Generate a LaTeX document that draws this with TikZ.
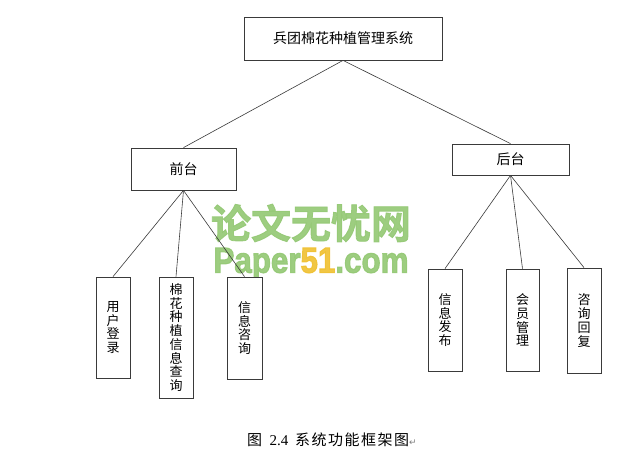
\documentclass[tikz,border=0pt]{standalone}
\usepackage{fontspec}
\setmainfont{Liberation Serif}
\newfontfamily\cjk{Noto Sans CJK SC}
\newfontfamily\cjkcap[LetterSpace=10]{Noto Sans CJK SC}
\newfontfamily\cjkb[FakeBold=2]{Noto Sans CJK SC Bold}
\newfontfamily\wmfont[FakeBold=3]{Liberation Sans Bold}
\newfontfamily\symfont{DejaVu Sans}
\definecolor{ln}{HTML}{3A3A3A}
\definecolor{wmgreen}{HTML}{93C873}
\definecolor{wmyellow}{HTML}{F0C030}
\tikzset{
  box/.style={draw=ln, line width=0.8pt, fill=white, inner sep=0pt, font=\cjk\fontsize{14}{15}\selectfont},
  leaf/.style={box, align=center, font=\cjk\fontsize{13}{13.75}\selectfont},
  conn/.style={draw=ln, line width=0.6pt},
}
\begin{document}
\begin{tikzpicture}[x=1pt,y=-1pt]
\useasboundingbox[fill=white] (0,0) rectangle (625,474);
% watermark
\node[text=wmgreen, font=\cjkb\fontsize{40}{40}\selectfont, inner sep=0pt, opacity=0.9] (wm1) at (311,223) {论文无忧网};
\node[font=\wmfont\fontsize{36}{36}\selectfont, inner sep=0pt, xscale=0.87, opacity=0.9] (wm2) at (311,264) {\textcolor{wmgreen}{Paper}\textcolor{wmyellow}{51}\textcolor{wmgreen}{.com}};
% nodes
\node[box, minimum width=198, minimum height=43] (root) at (343,38.5) {兵团棉花种植管理系统};
\node[box, minimum width=105, minimum height=42] (front) at (183.5,169) {前台};
\node[box, minimum width=117, minimum height=31] (back) at (510.5,159.5) {后台};
\node[leaf, minimum width=34, minimum height=101] (l1) at (113,327.5) {用\\户\\登\\录};
\node[leaf, minimum width=34, minimum height=121] (l2) at (176,337.5) {棉\\花\\种\\植\\信\\息\\查\\询};
\node[leaf, minimum width=35, minimum height=102] (l3) at (244.5,328) {信\\息\\咨\\询};
\node[leaf, minimum width=34, minimum height=102] (r1) at (445,320) {信\\息\\发\\布};
\node[leaf, minimum width=33, minimum height=102] (r2) at (522.5,320) {会\\员\\管\\理};
\node[leaf, minimum width=34, minimum height=105] (r3) at (584,320.5) {咨\\询\\回\\复};
% connectors
\draw[conn] (root.south) -- (front.north);
\draw[conn] (root.south) -- (back.north);
\draw[conn] (front.south) -- (l1.north);
\draw[conn] (front.south) -- (l2.north);
\draw[conn] (front.south) -- (l3.north);
\draw[conn] (back.south) -- (r1.north);
\draw[conn] (back.south) -- (r2.north);
\draw[conn] (back.south) -- (r3.north);
% caption
\node[anchor=west, inner sep=0pt, font=\fontsize{15}{16}\selectfont] (cap) at (247,440) {{\cjk 图}\hspace{0.5em}2.4\hspace{0.45em}{\cjkcap 系统功能框架图}{\symfont\fontsize{9}{9}\selectfont\textcolor{gray}{↵}}};
\end{tikzpicture}
\end{document}
